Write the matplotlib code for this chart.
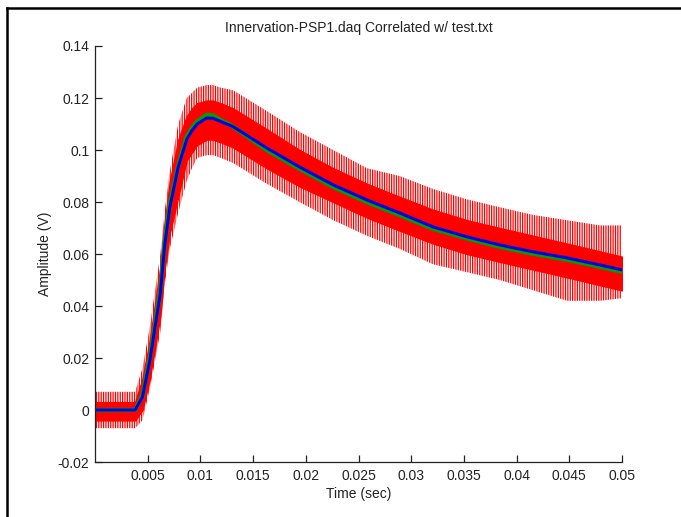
import matplotlib
matplotlib.use("Agg")
import matplotlib.pyplot as plt
from matplotlib.lines import Line2D

plt.rcParams['font.family'] = ['Liberation Sans', 'DejaVu Sans']
plt.rcParams['hatch.linewidth'] = 0.9

# ---- data ----
t = [0, 0.0038, 0.0045, 0.0052, 0.0062, 0.0066, 0.0071, 0.0079, 0.0087, 0.0092, 0.0097,
     0.0106, 0.0112, 0.0119, 0.0131, 0.0163, 0.0194, 0.0226, 0.0258, 0.0289, 0.0321,
     0.0353, 0.0384, 0.0416, 0.0448, 0.0479, 0.05]
mean_blue = [0, 0, 0.005, 0.019, 0.045, 0.063, 0.078, 0.0935, 0.104, 0.1075, 0.110,
             0.1123, 0.1122, 0.111, 0.109, 0.1008, 0.0935, 0.0866, 0.0808, 0.0758, 0.0704,
             0.0666, 0.0635, 0.0608, 0.0585, 0.0558, 0.0539]
mean_green = [0, 0, 0.0055, 0.020, 0.046, 0.064, 0.079, 0.094, 0.105, 0.1085, 0.111,
              0.1135, 0.1133, 0.1115, 0.109, 0.100, 0.0928, 0.0858, 0.0800, 0.0750, 0.0697,
              0.0660, 0.0628, 0.0601, 0.0578, 0.0551, 0.0532]
dense_hi = [0.003, 0.003, 0.012, 0.027, 0.055, 0.072, 0.088, 0.104, 0.113, 0.116, 0.118,
            0.119, 0.119, 0.118, 0.116, 0.108, 0.100, 0.093, 0.087, 0.082, 0.077,
            0.073, 0.070, 0.067, 0.064, 0.061, 0.059]
dense_lo = [-0.004, -0.004, 0.000, 0.012, 0.036, 0.054, 0.068, 0.082, 0.096, 0.099, 0.102,
            0.104, 0.104, 0.103, 0.101, 0.093, 0.086, 0.080, 0.074, 0.069, 0.064,
            0.060, 0.057, 0.054, 0.051, 0.048, 0.046]
outer_hi = [0.007, 0.007, 0.016, 0.032, 0.060, 0.076, 0.092, 0.110, 0.120, 0.122, 0.124,
            0.125, 0.125, 0.124, 0.123, 0.115, 0.107, 0.100, 0.093, 0.090, 0.085,
            0.081, 0.078, 0.075, 0.073, 0.071, 0.071]
outer_lo = [-0.007, -0.007, -0.004, 0.008, 0.030, 0.048, 0.062, 0.076, 0.088, 0.093, 0.097,
            0.098, 0.098, 0.097, 0.095, 0.087, 0.080, 0.073, 0.067, 0.062, 0.056,
            0.053, 0.050, 0.046, 0.042, 0.042, 0.043]

xticks = [0.005, 0.01, 0.015, 0.02, 0.025, 0.03, 0.035, 0.04, 0.045, 0.05]
xticklabels = ['0.005', '0.01', '0.015', '0.02', '0.025', '0.03', '0.035', '0.04', '0.045', '0.05']
yticks = [-0.02, 0, 0.02, 0.04, 0.06, 0.08, 0.1, 0.12, 0.14]
yticklabels = ['-0.02', '0', '0.02', '0.04', '0.06', '0.08', '0.1', '0.12', '0.14']

fig = plt.figure(figsize=(6.81, 5.17), dpi=100)
ax = fig.add_axes([95/681, 1-462/517, (622-95)/681, (462-46)/517])

# outer sparse traces (hatched vertical lines)
ax.fill_between(t, outer_lo, outer_hi, facecolor='none', edgecolor='#ff0000',
                hatch='|||||||', linewidth=0)
# dense band of traces
ax.fill_between(t, dense_lo, dense_hi, facecolor='#ff0000', edgecolor='#ff0000', linewidth=1)
ax.plot(t, mean_green, color='#00a000', lw=3.2)
ax.plot(t, mean_blue, color='#0000e0', lw=2.2)

ax.set_xlim(0, 0.05)
ax.set_ylim(-0.02, 0.14)
ax.set_xticks(xticks)
ax.set_xticklabels(xticklabels)
ax.set_yticks(yticks)
ax.set_yticklabels(yticklabels)
for s in ['top', 'right']:
    ax.spines[s].set_visible(False)
for s in ['left', 'bottom']:
    ax.spines[s].set_linewidth(0.9)
    ax.spines[s].set_color('#222222')
ax.tick_params(direction='in', length=5, width=0.9, labelsize=10, colors='#222222')
ax.tick_params(axis='x', pad=5)
ax.tick_params(axis='y', pad=4)

ax.set_title('Innervation-PSP1.daq Correlated w/ test.txt', fontsize=10, pad=10, color='#222222')
ax.set_xlabel('Time (sec)', fontsize=10, labelpad=3, color='#222222')
ax.set_ylabel('Amplitude (V)', fontsize=10, labelpad=4, color='#222222')

# frame border of the screenshot
fig.add_artist(Line2D([7/681, 7/681], [0, 1-8/517], transform=fig.transFigure, color='black', lw=1.8))
fig.add_artist(Line2D([7/681, 1], [1-8/517, 1-8/517], transform=fig.transFigure, color='black', lw=1.8))

fig.savefig('out.png', dpi=100)
